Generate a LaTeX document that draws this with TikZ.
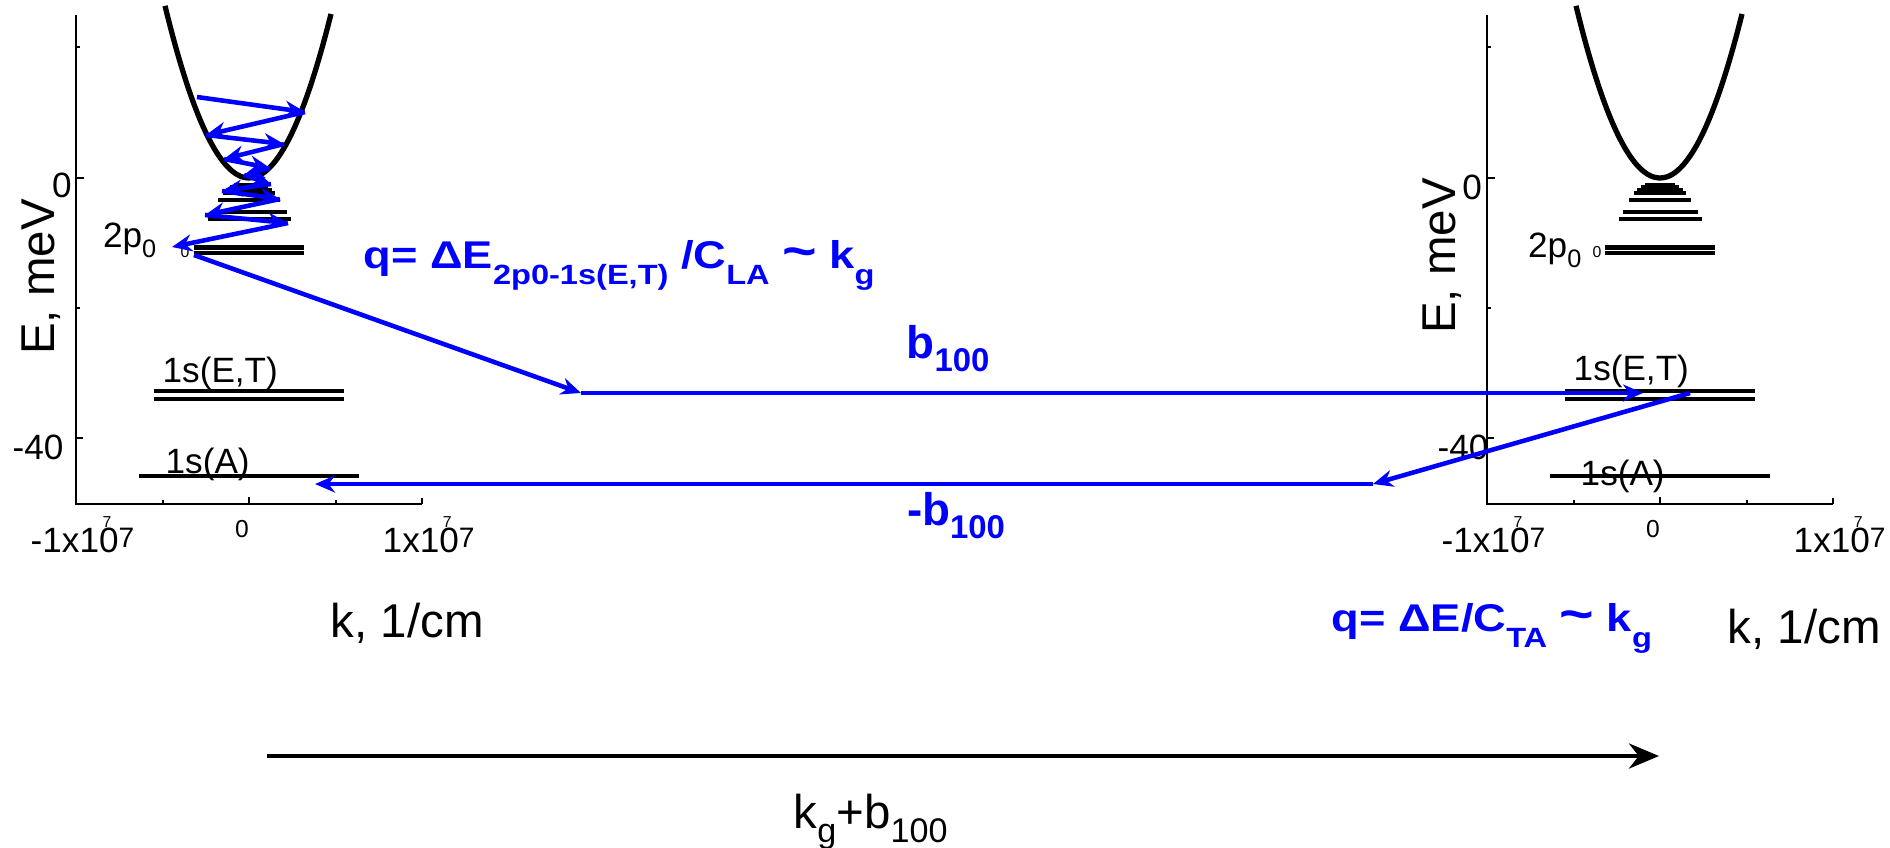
\documentclass[tikz,border=0pt]{standalone}
\usepackage{fontspec}
\setmainfont{Liberation Sans}
\usepackage{graphicx}
\usetikzlibrary{arrows.meta}

\newcommand{\lowidx}[2][0.3em]{\raisebox{-#1}{\scalebox{0.72}{#2}}}
\newcommand{\kmark}[1]{#1x1\rlap{\kern1pt\raisebox{7pt}{\fontsize{4.5}{5}\selectfont 7}}0\raisebox{1.4pt}{\fontsize{8}{9}\selectfont 7}}

\begin{document}
\begin{tikzpicture}[
    x=0.1mm, y=-0.1mm,
    axisline/.style={line width=0.75pt},
    band/.style={line width=1.5pt},
    lvlbar/.style={line width=1.25pt},
    hop/.style={blue, line width=1.3pt, -{Stealth[length=2mm, width=1.7mm]}},
    ticklbl/.style={font=\fontsize{10}{12}\selectfont, inner sep=0pt},
    tinylbl/.style={font=\fontsize{4.5}{5}\selectfont, inner sep=0pt},
    levellbl/.style={font=\fontsize{10}{12}\selectfont, inner sep=0pt, anchor=base west},
    axlabel/.style={font=\fontsize{13.5}{16}\selectfont, inner sep=0pt},
    qlabel/.style={text=blue, font=\bfseries\fontsize{11}{13}\selectfont, inner sep=0pt, anchor=base west},
    blabel/.style={text=blue, font=\bfseries\fontsize{13}{15}\selectfont, inner sep=0pt, anchor=base}
]
\useasboundingbox (0,0) rectangle (1890,847);

% both panels: axes, band and levels
\foreach \dx in {0,1411} {
  \begin{scope}[shift={(\dx,0)}]
    \draw[axisline] (76,15) -- (76,504) -- (422,504);
    \draw[axisline] (76,47) -- ++(4,0) (76,178) -- ++(8,0) (76,308) -- ++(4,0) (76,438) -- ++(7,0);
    \draw[axisline] (163,504) -- ++(0,-4) (249,504) -- ++(0,-7) (336,504) -- ++(0,-4) (422,504) -- ++(0,-6);
    \draw[band] plot[domain=-84:82, samples=41, smooth] ({249+\x},{178-0.0244*\x*\x});
    \foreach \y/\w in {185/15, 187.5/19, 190/23, 193/26, 200/31, 212/37.5, 219/41.5, 247.5/55, 253/55}
      \draw[lvlbar] ({249-\w},\y) -- ({249+\w},\y);
    \foreach \y/\w in {391/95, 399/95, 476/110}
      \draw[lvlbar, line width=1.1pt] ({249-\w},\y) -- ({249+\w},\y);
  \end{scope}
}

% left panel labels
\node[axlabel, rotate=90] (eL) at (41,277) {E, meV};
\node[ticklbl] (y0L) at (62,185) {0};
\node[ticklbl] (y40L) at (38,447) {-40};
\node[ticklbl, anchor=base west] (xmL) at (30,552) {\kmark{-1}};
\node[ticklbl, font=\fontsize{7}{8}\selectfont] (x0L) at (242,529) {0};
\node[ticklbl, anchor=base west] (xpL) at (382,552) {\kmark{1}};
\node[levellbl, anchor=base east] (p2L) at (157,247) {2p\lowidx{0}};
\node[tinylbl] (t0L) at (185,252) {0};
\node[levellbl] (etL) at (162,382) {1s(E,T)};
\node[levellbl] (aL) at (165,473) {1s(A)};
\node[axlabel, anchor=base west] (kL) at (330,637) {k, 1/cm};

% right panel labels
\node[axlabel, rotate=90] (eR) at (1442,256) {E, meV};
\node[ticklbl] (y0R) at (1472,187) {0};
\node[ticklbl] (y40R) at (1463,447) {-40};
\node[ticklbl, anchor=base west] (xmR) at (1441,552) {\kmark{-1}};
\node[ticklbl, font=\fontsize{7}{8}\selectfont] (x0R) at (1653,529) {0};
\node[ticklbl, anchor=base west] (xpR) at (1793,552) {\kmark{1}};
\node[levellbl, anchor=base east] (p2R) at (1582,257) {2p\lowidx{0}};
\node[tinylbl] (t0R) at (1597,252) {0};
\node[levellbl] (etR) at (1573,380) {1s(E,T)};
\node[levellbl] (aR) at (1580,485) {1s(A)};
\node[axlabel, anchor=base west] (kR) at (1727,643) {k, 1/cm};

% relaxation down the band
\coordinate (z0) at (197,97);
\coordinate (z1) at (305,112);
\coordinate (z2) at (206,135);
\coordinate (z3) at (284,144);
\coordinate (z4) at (224,159);
\coordinate (z5) at (270,168);
\coordinate (z6) at (244,175);
\coordinate (z7) at (271,184);
\coordinate (z8) at (222,191);
\coordinate (z9) at (280,199);
\coordinate (z10) at (205,215);
\coordinate (z11) at (288,223);
\coordinate (z12) at (172,247);
\foreach \a/\b in {z0/z1, z1/z2, z2/z3, z3/z4, z4/z5, z5/z6, z6/z7, z7/z8, z8/z9, z9/z10, z10/z11, z11/z12}
  \draw[hop] (\a) -- (\b);

% phonon and umklapp steps
\coordinate (from2p0) at (194,255);
\coordinate (toET) at (581,393);
\coordinate (atET) at (1643,393);
\coordinate (fromET) at (1690,393);
\coordinate (backR) at (1373,484);
\coordinate (backL) at (315,484);
\draw[hop] (from2p0) -- (toET);
\draw[hop] (toET) -- (atET);
\draw[hop] (fromET) -- (backR);
\draw[hop] (backR) -- (backL);

\node[qlabel] (qLA) at (363,268) {\scalebox{1.17}[1]{q= ΔE\lowidx[0.42em]{2p0-1s(E,T)} /C\lowidx[0.42em]{LA} {\Large\textasciitilde} k\lowidx[0.42em]{g}}};
\node[blabel] (bp) at (948,358) {b\lowidx{100}};
\node[blabel] (bm) at (956,525) {-b\lowidx{100}};
\node[qlabel] (qTA) at (1331,631) {\scalebox{1.17}[1]{q= ΔE/C\lowidx[0.42em]{TA} {\Large\textasciitilde} k\lowidx[0.42em]{g}}};

% total momentum
\coordinate (kstart) at (267,756);
\coordinate (kend) at (1659,756);
\draw[line width=1.4pt, -{Stealth[length=3mm, width=2.5mm]}] (kstart) -- (kend);
\node[axlabel, anchor=base west] (ksum) at (793,828) {k\lowidx{g}+b\lowidx{100}};

\end{tikzpicture}
\end{document}
